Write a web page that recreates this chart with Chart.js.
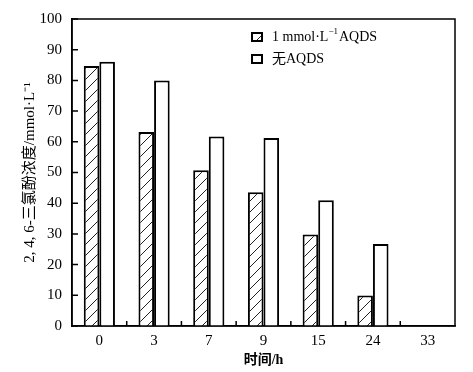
<!DOCTYPE html>
<html>
<head>
<meta charset="utf-8">
<script src="https://cdn.jsdelivr.net/npm/chart.js@4/dist/chart.umd.min.js"></script>
<style>
  html, body { margin: 0; padding: 0; background: #fff; }
  canvas { display: block; }
</style>
</head>
<body>
<canvas id="chart" width="473" height="372"></canvas>
<script>
// time points (h) and 2,4,6-TCP concentration
const timeLabels = ['0', '3', '7', '9', '15', '24', '33'];
const withAqds = [84.7, 63.2, 50.7, 43.6, 29.8, 9.9, null];
const withoutAqds = [86.1, 80.0, 61.7, 61.2, 41.0, 26.7, null];
const yMin = 0;
const yMax = 100;
const yStep = 10;

const serif = "'Liberation Serif', 'Times New Roman', 'Noto Sans CJK SC', serif";

// diagonal hatch for the AQDS bars
function makeHatch() {
  const size = 11;
  const c = document.createElement('canvas');
  c.width = size;
  c.height = size;
  const g = c.getContext('2d');
  g.fillStyle = '#fff';
  g.fillRect(0, 0, size, size);
  g.strokeStyle = '#222';
  g.lineWidth = 1;
  g.beginPath();
  g.moveTo(-1, size + 1);
  g.lineTo(size + 1, -1);
  g.moveTo(-1, 1);
  g.lineTo(1, -1);
  g.moveTo(size - 1, size + 1);
  g.lineTo(size + 1, size - 1);
  g.stroke();
  return g.createPattern(c, 'repeat');
}

const hatch = makeHatch();

// frame, inward ticks and legend
const framePlugin = {
  id: 'frame',
  afterDraw(chart) {
    const { ctx, chartArea: a, scales: { x, y } } = chart;
    ctx.save();
    ctx.strokeStyle = '#000';
    ctx.lineWidth = 1.5;
    ctx.strokeRect(a.left, a.top, a.right - a.left, a.bottom - a.top);

    ctx.beginPath();
    y.ticks.forEach((t, i) => {
      const py = y.getPixelForTick(i);
      ctx.moveTo(a.left, py);
      ctx.lineTo(a.left + 6, py);
    });
    for (let i = 1; i < timeLabels.length; i++) {
      const px = (x.getPixelForValue(i - 1) + x.getPixelForValue(i)) / 2;
      ctx.moveTo(px, a.bottom);
      ctx.lineTo(px, a.bottom - 5);
    }
    ctx.stroke();

    // legend
    const bx = 252;
    const rows = [37, 59];
    ctx.lineWidth = 2;
    ctx.fillStyle = hatch;
    ctx.fillRect(bx, rows[0] - 4, 10, 8);
    ctx.strokeRect(bx, rows[0] - 4, 10, 8);
    ctx.fillStyle = '#fff';
    ctx.fillRect(bx, rows[1] - 4, 10, 8);
    ctx.strokeRect(bx, rows[1] - 4, 10, 8);

    ctx.fillStyle = '#000';
    ctx.textBaseline = 'middle';
    ctx.textAlign = 'left';
    ctx.font = '14px ' + serif;
    let tx = 272;
    const part1 = '1 mmol·L';
    ctx.fillText(part1, tx, rows[0]);
    tx += ctx.measureText(part1).width;
    ctx.font = '9px ' + serif;
    ctx.fillText('\u22121', tx, rows[0] - 5);
    tx += ctx.measureText('\u22121').width + 1;
    ctx.font = '14px ' + serif;
    ctx.fillText('AQDS', tx, rows[0]);
    ctx.fillText('无AQDS', 272, rows[1]);
    ctx.restore();
  }
};

new Chart(document.getElementById('chart'), {
  type: 'bar',
  data: {
    labels: timeLabels,
    datasets: [
      {
        label: '1 mmol·L⁻¹AQDS',
        data: withAqds,
        backgroundColor: hatch,
        borderColor: '#000',
        borderWidth: 2
      },
      {
        label: '无AQDS',
        data: withoutAqds,
        backgroundColor: '#fff',
        borderColor: '#000',
        borderWidth: 2
      }
    ]
  },
  options: {
    responsive: false,
    animation: false,
    categoryPercentage: 0.57,
    barPercentage: 1.0,
    layout: { padding: { top: 12, right: 18, left: 0, bottom: 0 } },
    plugins: {
      legend: { display: false },
      tooltip: { enabled: false }
    },
    scales: {
      x: {
        grid: { display: false, drawTicks: false },
        border: { display: true, color: '#000', width: 1.5 },
        ticks: { color: '#000', padding: 6, font: { family: serif, size: 15 } },
        title: {
          display: true,
          text: '时间/h',
          color: '#000',
          padding: { top: 0, bottom: 3 },
          font: { family: serif, size: 14, weight: 'bold' }
        },
        afterFit(scale) { scale.height = 46; }
      },
      y: {
        min: yMin,
        max: yMax,
        grid: { display: false, drawTicks: false },
        border: { display: true, color: '#000', width: 1.5 },
        ticks: { stepSize: yStep, color: '#000', padding: 10, font: { family: serif, size: 15 } },
        title: {
          display: true,
          text: '2, 4, 6-三氯酚浓度/mmol·L⁻¹',
          color: '#000',
          padding: { top: 21, bottom: 0 },
          font: { family: serif, size: 15 }
        },
        afterFit(scale) { scale.width = 72; }
      }
    }
  },
  plugins: [framePlugin]
});
</script>
</body>
</html>
